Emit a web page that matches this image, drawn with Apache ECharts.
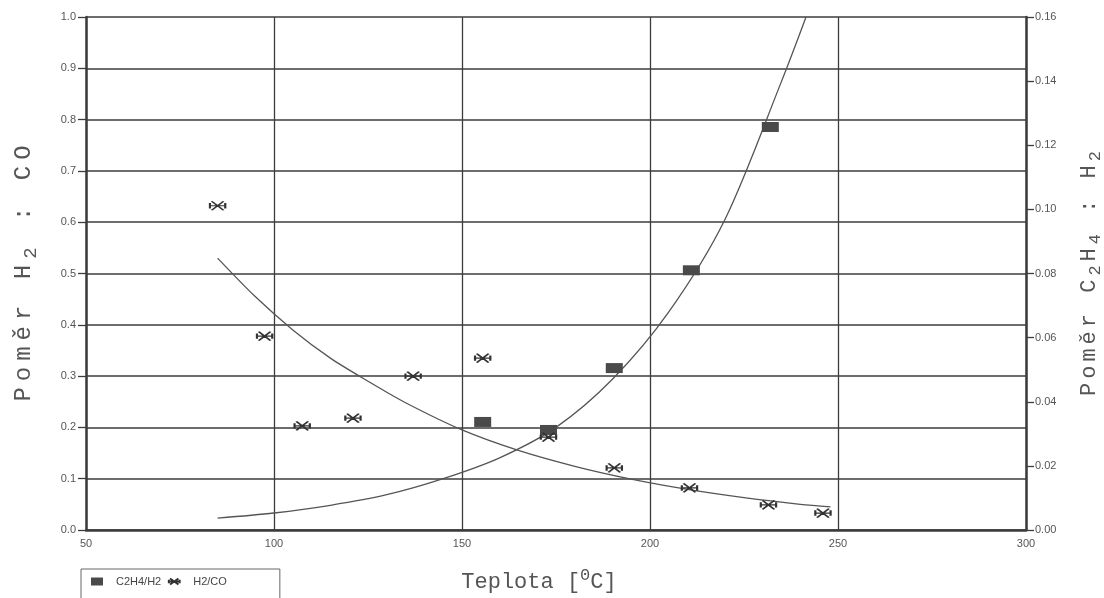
<!DOCTYPE html>
<html>
<head>
<meta charset="utf-8">
<script src="https://cdn.jsdelivr.net/npm/echarts@6/dist/echarts.min.js"></script>
<style>
  html, body { margin: 0; padding: 0; background: #fff; }
  #chart { width: 1104px; height: 598px; }
</style>
</head>
<body>
<div id="chart"></div>
<script>
// Measured ratios vs. temperature
const h2coTemp  = [85, 97.5, 107.5, 121, 137, 155.5, 173, 190.5, 210.5, 231.5, 246];
const h2coRatio = [0.632, 0.378, 0.203, 0.218, 0.300, 0.335, 0.181, 0.121, 0.082, 0.049, 0.033];

const c2h4Temp  = [155.5, 173, 190.5, 211, 232];
const c2h4Ratio = [0.0337, 0.0312, 0.0505, 0.081, 0.1257];

// Fitted trend curves
const h2coFitTemp  = [85, 95, 105, 115, 125, 135, 150, 165, 180, 195, 210, 225, 240, 248];
const h2coFitRatio = [0.53, 0.455, 0.39, 0.335, 0.29, 0.248, 0.195, 0.155, 0.124, 0.099, 0.079, 0.063, 0.05, 0.045];

const c2h4FitTemp  = [85, 100, 115, 130, 145, 160, 175, 190, 205, 220, 235, 241.5];
const c2h4FitRatio = [0.0037, 0.0053, 0.0077, 0.011, 0.016, 0.0225, 0.032, 0.047, 0.068, 0.097, 0.14, 0.16];

const legendNames = ['C2H4/H2', 'H2/CO'];

const pair = (xs, ys) => xs.map((x, i) => [x, ys[i]]);

const ink = '#3c3c3c';
const labelFont = '"Liberation Sans Narrow", "Liberation Sans", Arial, sans-serif';
const titleFont = '"Liberation Mono", "DejaVu Sans Mono", monospace';

// asterisk-like marker: horizontal bar crossed by two diagonals, with end caps
const starPath = 'path://M0,5 L20,5 M3,0 L17,10 M3,10 L17,0 M1,2 L1,8 M19,2 L19,8';

// Builds a letter-spaced rich-text string: each character becomes a token,
// separated by a fixed-width spacer token.
function spaced(segments, spacer) {
  const parts = [];
  segments.forEach(([text, style]) => {
    for (const ch of text) parts.push('{' + style + '|' + ch + '}');
  });
  return parts.join('{' + spacer + '| }');
}

function titleRich(size, gap) {
  const shift = Math.round(size * 0.6);
  return {
    n:   { fontFamily: titleFont, fontSize: size, color: '#555' },
    sub: { fontFamily: titleFont, fontSize: size - 5, color: '#555', padding: [shift, 0, 0, 0] },
    sup: { fontFamily: titleFont, fontSize: size - 5, color: '#555', padding: [0, 0, shift, 0] },
    s:   { fontFamily: titleFont, fontSize: 1, width: gap }
  };
}

const leftTitle  = spaced([['Poměr H', 'n'], ['2', 'sub'], [' : CO', 'n']], 's');
const rightTitle = spaced([['Poměr C', 'n'], ['2', 'sub'], ['H', 'n'], ['4', 'sub'], [' : H', 'n'], ['2', 'sub']], 's');

const chart = echarts.init(document.getElementById('chart'));
chart.setOption({
  backgroundColor: '#fff',
  animation: false,
  grid: { left: 86, right: 78, top: 17, bottom: 68, containLabel: false, outerBoundsMode: 'none' },
  legend: {
    data: legendNames,
    left: 81,
    top: 569,
    orient: 'horizontal',
    itemWidth: 12,
    itemHeight: 8,
    itemGap: 6,
    padding: [7, 53, 30, 10],
    borderColor: '#666',
    borderWidth: 1,
    textStyle: { fontFamily: labelFont, fontSize: 11, color: '#444', padding: [0, 0, 0, 8] }
  },
  xAxis: {
    type: 'value',
    min: 50, max: 300, interval: 50,
    name: 'Teplota [{sup|0}C]',
    nameLocation: 'middle',
    nameGap: 37,
    nameTextStyle: { fontFamily: titleFont, fontSize: 22, color: '#555', rich: titleRich(22, 0), padding: [0, 34, 0, 0] },
    axisLine: { show: true, onZero: false, lineStyle: { color: ink, width: 2.5 } },
    axisTick: { show: false },
    axisLabel: { fontFamily: labelFont, fontSize: 11, color: '#555', margin: 8 },
    splitLine: { show: true, lineStyle: { color: ink, width: 1.3 } }
  },
  yAxis: [
    {
      type: 'value',
      min: 0, max: 1, interval: 0.1,
      name: leftTitle,
      nameLocation: 'middle',
      nameRotate: 90,
      nameGap: 46,
      nameTextStyle: { fontFamily: titleFont, fontSize: 24, color: '#555', rich: titleRich(24, 6) },
      axisLine: { show: true, lineStyle: { color: ink, width: 2.5 } },
      axisTick: { show: true, length: 8, lineStyle: { color: ink, width: 1.3 } },
      axisLabel: { fontFamily: labelFont, fontSize: 11, color: '#555', margin: 10,
        formatter: v => v.toFixed(1) },
      splitLine: { show: true, lineStyle: { color: ink, width: 1.5 } }
    },
    {
      type: 'value',
      min: 0, max: 0.16, interval: 0.02,
      position: 'right',
      name: rightTitle,
      nameLocation: 'middle',
      nameRotate: 90,
      nameGap: 48,
      nameTextStyle: { fontFamily: titleFont, fontSize: 22, color: '#555', rich: titleRich(22, 4) },
      axisLine: { show: true, lineStyle: { color: ink, width: 2.5 } },
      axisTick: { show: true, length: 8, lineStyle: { color: ink, width: 1.3 } },
      axisLabel: { fontFamily: labelFont, fontSize: 11, color: '#555', margin: 9,
        formatter: v => v.toFixed(2) },
      splitLine: { show: false }
    }
  ],
  series: [
    {
      name: 'C2H4/H2',
      type: 'scatter',
      yAxisIndex: 1,
      symbol: 'rect',
      symbolSize: [17, 10],
      itemStyle: { color: '#4a4a4a', opacity: 1 },
      data: pair(c2h4Temp, c2h4Ratio),
      z: 5
    },
    {
      name: 'H2/CO',
      type: 'scatter',
      yAxisIndex: 0,
      symbol: starPath,
      symbolSize: [17, 9],
      symbolKeepAspect: false,
      itemStyle: { color: 'rgba(0,0,0,0)', borderColor: '#333', borderWidth: 1.6, opacity: 1 },
      data: pair(h2coTemp, h2coRatio),
      z: 5
    },
    {
      name: 'H2/CO fit',
      type: 'line',
      yAxisIndex: 0,
      showSymbol: false,
      smooth: 0.3,
      lineStyle: { color: '#555', width: 1.3 },
      data: pair(h2coFitTemp, h2coFitRatio),
      z: 3
    },
    {
      name: 'C2H4/H2 fit',
      type: 'line',
      yAxisIndex: 1,
      showSymbol: false,
      smooth: 0.3,
      lineStyle: { color: '#555', width: 1.3 },
      data: pair(c2h4FitTemp, c2h4FitRatio),
      z: 3
    }
  ]
});
</script>
</body>
</html>
